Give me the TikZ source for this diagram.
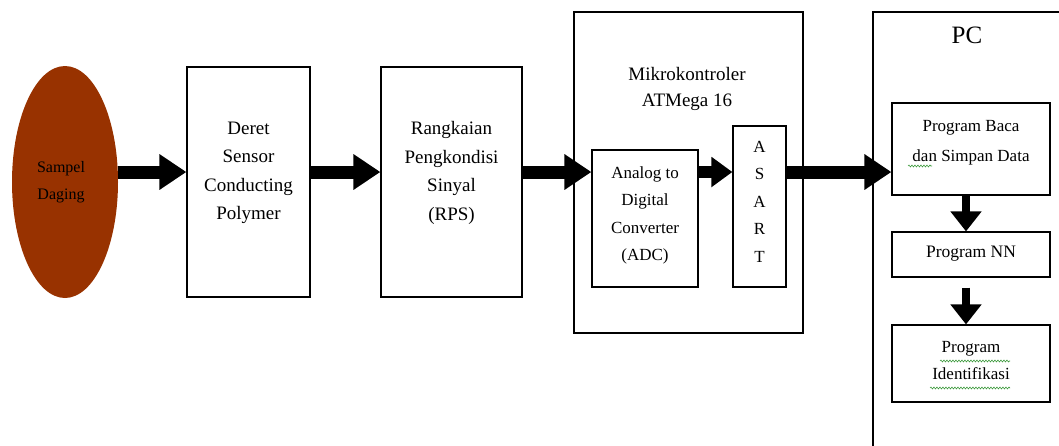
\documentclass[tikz,border=0pt]{standalone}
\usepackage{fontspec}
\setmainfont{Liberation Serif}
\usetikzlibrary{arrows.meta,calc,decorations.pathmorphing,shapes.geometric}
\definecolor{meat}{HTML}{983200}
\definecolor{spell}{HTML}{3C9A3C}
\tikzset{
  blk/.style={draw, line width=1.2pt, inner sep=0pt, fill=white},
  txt/.style={align=center, inner sep=0pt, font=\fontsize{17}{27.5}\selectfont},
  bigtxt/.style={txt, font=\fontsize{19}{28.5}\selectfont},
  fat/.style={line width=13pt, -{Triangle[length=27pt,width=34pt]}},
  mid/.style={line width=12pt, -{Triangle[length=21pt,width=29pt]}},
  vfat/.style={line width=8pt, -{Triangle[length=20pt,width=30pt]}},
  squig/.style={spell, line width=0.6pt, decorate,
    decoration={snake, amplitude=0.9pt, segment length=3pt}}
}
\begin{document}
\begin{tikzpicture}[x=1pt,y=-1pt]
\useasboundingbox (0,0) rectangle (1059,445);

% signal lanes
\coordinate (lane) at (0,172);
\coordinate (vlane) at (966,0);

% sample
\node[ellipse, fill=meat, minimum width=106pt, minimum height=232pt, inner sep=0pt]
  (sampel) at (65,182) {};
\node[txt, font=\fontsize{16}{26.5}\selectfont] (sampeltxt) at (61,182) {Sampel\\Daging};

% sensor array and signal conditioning
\node[blk, minimum width=123pt, minimum height=230pt] (sensor) at (248.5,182) {};
\node[bigtxt] (sensortxt) at ($(sensor.center)+(0,-9)$) {Deret\\Sensor\\Conducting\\Polymer};

\node[blk, minimum width=141pt, minimum height=230pt] (rps) at (451.5,182) {};
\node[bigtxt] (rpstxt) at ($(rps.center)+(0,-9)$) {Rangkaian\\Pengkondisi\\Sinyal\\(RPS)};

% microcontroller
\node[blk, minimum width=229pt, minimum height=321pt] (mcu) at (688.5,172.5) {};
\node[bigtxt, font=\fontsize{19}{26}\selectfont] (mcutxt) at (687,89) {Mikrokontroler\\ATMega 16};
\node[blk, minimum width=106pt, minimum height=137pt] (adc) at (645,218.5) {};
\node[txt] (adctxt) at ($(adc.center)+(0,-3)$) {Analog to\\Digital\\Converter\\(ADC)};
\node[blk, minimum width=53pt, minimum height=161pt] (asart) at (759.5,206.5) {};
\node[txt] (asarttxt) at ($(asart.center)+(0,-5)$) {A\\S\\A\\R\\T};

% PC (frame runs past the page edge on the right and bottom)
\coordinate (pcbl) at (873,460);
\coordinate (pctl) at (873,12);
\coordinate (pctr) at (1080,12);
\draw[line width=1.2pt] (pcbl) -- (pctl) -- (pctr);
\node[txt, font=\fontsize{25}{25}\selectfont] (pctxt) at (967,35) {PC};

\node[blk, minimum width=158pt, minimum height=92pt] (baca) at (971,149) {};
\node[txt, font=\fontsize{17}{30}\selectfont] (bacatxt) at ($(baca.center)+(0,-6)$) {Program Baca\\dan Simpan Data};
\node[blk, minimum width=158pt, minimum height=45pt] (nn) at (971,254.5) {};
\node[txt, font=\fontsize{17.5}{27}\selectfont] (nntxt) at ($(nn.center)+(0,-1)$) {Program NN};
\node[blk, minimum width=158pt, minimum height=77pt] (ident) at (971,363.5) {};
\node[txt] (identtxt) at ($(ident.center)+(0,-3)$) {Program\\Identifikasi};

% spelling marks
\draw[squig] (908,166) -- (932,166);
\draw[squig] (940,361) -- (1010,361);
\draw[squig] (930,388) -- (1010,388);

% data flow
\draw[fat] (sampel.east |- lane) -- (sensor.west |- lane);
\draw[fat] (sensor.east |- lane) -- (rps.west |- lane);
\draw[fat] (rps.east |- lane) -- (adc.west |- lane);
\draw[mid] (adc.east |- lane) -- (asart.west |- lane);
\draw[fat] (asart.east |- lane) -- (baca.west |- lane);
\draw[vfat] (baca.south -| vlane) -- (nn.north -| vlane);
\draw[vfat, shorten <=10pt] (nn.south -| vlane) -- (ident.north -| vlane);
\end{tikzpicture}
\end{document}
